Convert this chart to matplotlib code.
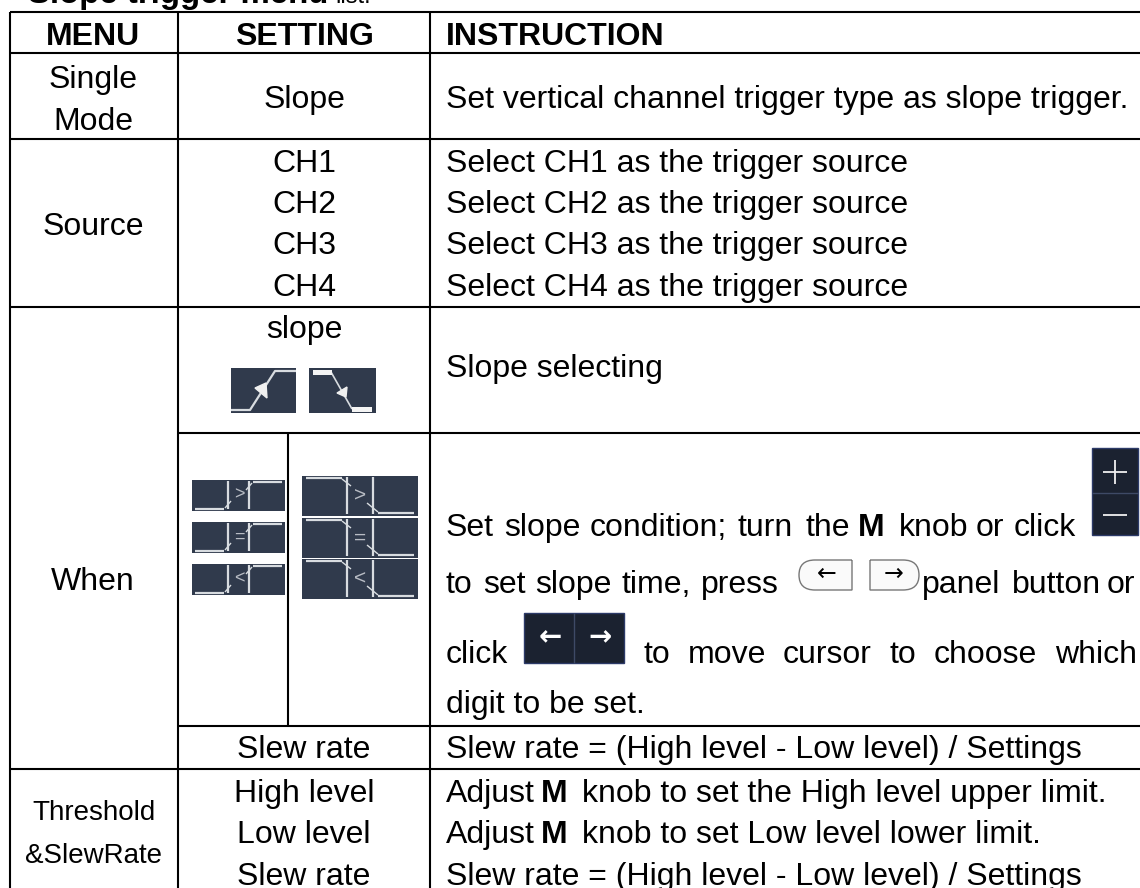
import matplotlib
matplotlib.use("Agg")
import matplotlib.pyplot as plt
from matplotlib.patches import Rectangle, PathPatch
from matplotlib.path import Path

plt.rcParams['font.family'] = ['Liberation Sans', 'DejaVu Sans']

FS = 23

menu_labels = [("MENU", 45, True), ("Single", 88, False), ("Mode", 130, False), ("Source", 235, False),
               ("When", 590, False)]
setting_labels = [("SETTING", 45, True), ("Slope", 108, False), ("CH1", 172, False), ("CH2", 213, False),
                  ("CH3", 254, False), ("CH4", 296, False), ("slope", 338, False),
                  ("Slew rate", 758, False), ("High level", 802, False), ("Low level", 843, False),
                  ("Slew rate", 885, False)]
instr_labels = [("INSTRUCTION", 45, True),
                ("Set vertical channel trigger type as slope trigger.", 108, False),
                ("Select CH1 as the trigger source", 172, False),
                ("Select CH2 as the trigger source", 213, False),
                ("Select CH3 as the trigger source", 254, False),
                ("Select CH4 as the trigger source", 296, False),
                ("Slope selecting", 377, False),
                ("digit to be set.", 713, False),
                ("Slew rate = (High level - Low level) / Settings", 758, False),
                ("Slew rate = (High level - Low level) / Settings", 885, False)]
# justified lines, word by word: (x, baseline, text, bold)
justified_words = [
    (446, 536, "Set", False), (504, 536, "slope", False), (590, 536, "condition;", False),
    (738, 536, "turn", False), (806, 536, "the", False), (858, 536, "M", True),
    (899, 536, "knob", False), (976, 536, "or", False), (1014, 536, "click", False),
    (446, 593, "to", False), (483, 593, "set", False), (535, 593, "slope", False),
    (622, 593, "time,", False), (701, 593, "press", False),
    (922, 593, "panel", False), (1012, 593, "button", False), (1107, 593, "or", False),
    (446, 663, "click", False), (643, 663, "to", False), (688, 663, "move", False),
    (783, 663, "cursor", False), (890, 663, "to", False), (934, 663, "choose", False),
    (1055, 663, "which", False),
    (446, 802, "Adjust", False), (541, 802, "M", True), (582, 802, "knob to set the High level upper limit.", False),
    (446, 843, "Adjust", False), (541, 843, "M", True), (582, 843, "knob to set Low level lower limit.", False),
]

fig = plt.figure(figsize=(11.40, 8.88), dpi=100)
ax = fig.add_axes([0, 0, 1, 1])
ax.set_xlim(0, 1140)
ax.set_ylim(888, 0)
ax.axis("off")

BLACK = "#000000"
LW = 1.5


def hline(y, x0, x1):
    ax.plot([x0, x1], [y, y], color=BLACK, lw=LW, solid_capstyle="butt")


def vline(x, y0, y1):
    ax.plot([x, x], [y0, y1], color=BLACK, lw=LW, solid_capstyle="butt")


def t(x, y, s, ha="left", bold=False, size=FS, color="#000000"):
    return ax.text(x, y, s, ha=ha, va="baseline", fontsize=size,
                   fontweight="bold" if bold else "normal", color=color)


# grid
hline(12, 10, 1140)
hline(53, 10, 1140)
hline(139, 10, 1140)
hline(307, 10, 1140)
hline(433, 178, 1140)
hline(726, 178, 1140)
hline(769, 10, 1140)
vline(10, 12, 888)
vline(178, 12, 888)
vline(430, 12, 888)
vline(288, 433, 726)

# heading fragment clipped by the top edge
t(28, 3, "Slope trigger menu", bold=True, size=23.8)
t(335, 3, "list.", size=17)

# columns
for s, y, b in menu_labels:
    t(93, y, s, ha="center", bold=b)
for s, y, b in setting_labels:
    t(304, y, s, ha="center", bold=b)
for s, y, b in instr_labels:
    t(446, y, s, bold=b)
t(94, 820, "Threshold", ha="center", size=20)
t(94, 863, "&SlewRate", ha="center", size=20)

for x, y, s, b in justified_words:
    t(x, y, s, bold=b)

# icons
DARK = "#303A4C"
LIGHT = "#D8DCE0"
NAVY = "#1B2230"
EDGE = "#2C3A68"


def box(x0, y0, x1, y1, c=DARK, ec="none"):
    ax.add_patch(Rectangle((x0, y0), x1 - x0, y1 - y0, fc=c, ec=ec, lw=1, zorder=2))


def seg(xs, ys, lw=1.6, c=LIGHT):
    ax.plot(xs, ys, color=c, lw=lw, solid_capstyle="butt", zorder=3)


# rising / falling icons
box(231, 368, 296, 413)
seg([231, 250, 275, 296], [410, 410, 371, 371])
ax.fill([255, 266, 267], [388, 383, 398], color="#F0F0F0", zorder=3)
box(309, 368, 376, 413)
seg([331, 352], [372, 409], lw=1.2)
ax.add_patch(Rectangle((313, 370), 19, 5, fc="#F4F4F4", ec="none", zorder=3))
ax.add_patch(Rectangle((352, 407), 20, 5, fc="#F4F4F4", ec="none", zorder=3))
ax.fill([337, 347, 346], [393, 387, 397], color="#F0F0F0", zorder=3)

# small condition icons
marks = [">", "=", "<"]
for (y0, m) in zip([480, 522, 564], marks):
    box(192, y0, 285, y0 + 31)
    seg([195, 224], [y0 + 29, y0 + 29])
    seg([253, 282], [y0 + 2, y0 + 2])
    seg([228, 228], [y0 + 1, y0 + 29])
    seg([249, 249], [y0 + 1, y0 + 29])
    seg([225, 231], [y0 + 28, y0 + 21], lw=1)
    seg([246, 252], [y0 + 10, y0 + 3], lw=1)
    ax.text(239, y0 + 15, m, color="#B8BCC4", fontsize=13, ha="center", va="center", zorder=3)
for (y0, m) in zip([476, 518, 559], marks):
    box(302, y0, 418, y0 + 40)
    seg([306, 342], [y0 + 2, y0 + 2])
    seg([378, 414], [y0 + 37, y0 + 37])
    seg([347, 347], [y0 + 1, y0 + 38])
    seg([373, 373], [y0 + 1, y0 + 38])
    seg([342, 351], [y0 + 3, y0 + 10], lw=1)
    seg([367, 378], [y0 + 27, y0 + 36], lw=1)
    ax.text(360, y0 + 20, m, color="#B8BCC4", fontsize=15, ha="center", va="center", zorder=3)

# plus / minus
box(1092, 448, 1138, 535, c=NAVY, ec=EDGE)
seg([1092, 1138], [493, 493], lw=1, c="#3E4A66")
seg([1103, 1127], [472, 472], lw=1.3, c="#F0F0F0")
seg([1115, 1115], [460, 484], lw=1.3, c="#F0F0F0")
seg([1103, 1127], [515, 515], lw=1.3, c="#F0F0F0")


# panel buttons: one rounded side each
def pill(x0, x1, y0, y1, left):
    r = 16
    if left:
        v = [(x1, y0), (x0 + r, y0), (x0, y0), (x0, (y0 + y1) / 2), (x0, y1), (x0 + r, y1), (x1, y1), (x1, y0)]
    else:
        v = [(x0, y0), (x1 - r, y0), (x1, y0), (x1, (y0 + y1) / 2), (x1, y1), (x1 - r, y1), (x0, y1), (x0, y0)]
    c = [Path.MOVETO, Path.LINETO, Path.CURVE3, Path.CURVE3, Path.CURVE3, Path.CURVE3, Path.LINETO, Path.LINETO]
    ax.add_patch(PathPatch(Path(v, c), fc="#FAFAFA", ec="#777777", lw=1, zorder=2))


pill(799, 852, 560, 590, True)
pill(870, 919, 560, 590, False)
ax.text(827, 574, "\u2190", fontsize=17, ha="center", va="center", zorder=3, family=["DejaVu Sans"])
ax.text(894, 574, "\u2192", fontsize=17, ha="center", va="center", zorder=3, family=["DejaVu Sans"])

# click button
box(524, 613, 624, 663, c=NAVY, ec=EDGE)
seg([574, 574], [613, 663], lw=1, c="#3E4A66")
ax.text(550, 637, "\u2190", color="white", fontsize=20, ha="center", va="center", zorder=3,
        family=["DejaVu Sans"], fontweight="bold")
ax.text(600, 637, "\u2192", color="white", fontsize=20, ha="center", va="center", zorder=3,
        family=["DejaVu Sans"], fontweight="bold")

fig.savefig("out.png", dpi=100)
